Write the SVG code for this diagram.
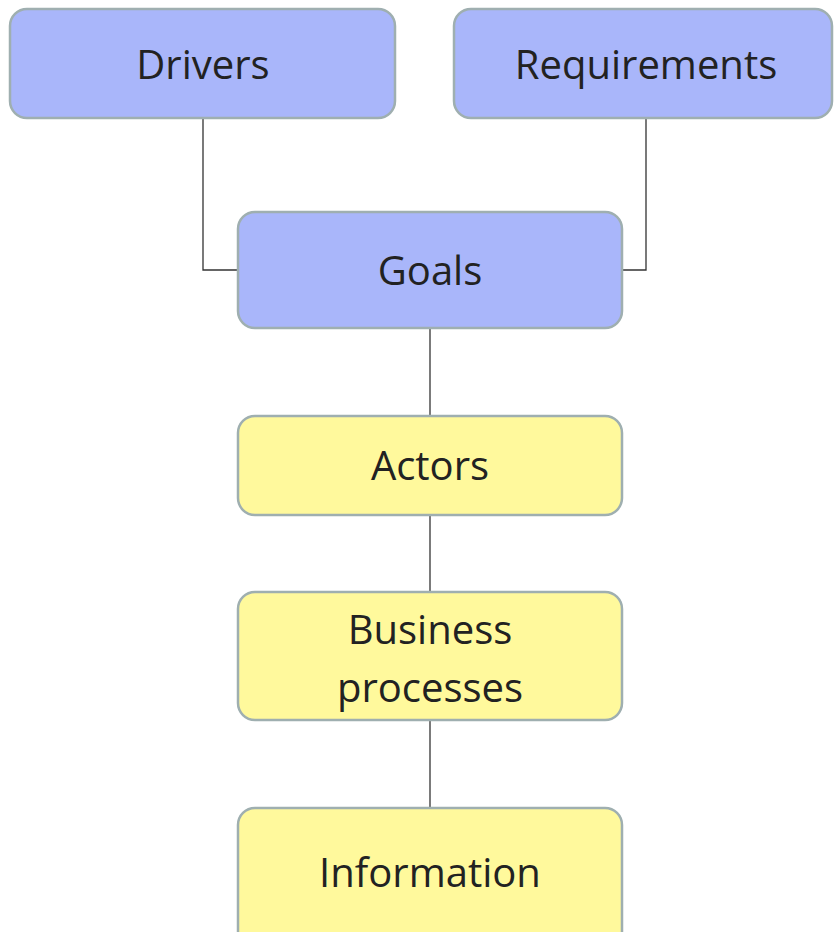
<svg xmlns="http://www.w3.org/2000/svg" width="834" height="932" viewBox="0 0 834 932">
<style>
.blue{fill:#A9B6FA;stroke:#9FAFB0;stroke-width:2.5}
.yel{fill:#FFF99C;stroke:#9FAFB0;stroke-width:2.5}
.lbl{font-family:"Open Sans","Noto Sans",sans-serif;font-size:40px;fill:#222;text-anchor:middle}
.con{fill:none;stroke:#333;stroke-width:1.3}
</style>
<rect width="834" height="932" fill="#fff"/>
<g id="connectors">
<polyline class="con" points="203,118 203,270 238,270"/>
<polyline class="con" points="646,118 646,270 622,270"/>
<line class="con" x1="430" y1="328" x2="430" y2="416"/>
<line class="con" x1="430" y1="515" x2="430" y2="592"/>
<line class="con" x1="430" y1="720" x2="430" y2="808"/>
</g>
<g id="drivers"><rect class="blue" x="10" y="9" width="385" height="109" rx="17"/><text class="lbl" x="203" y="79">Drivers</text></g>
<g id="requirements"><rect class="blue" x="454" y="9" width="378" height="109" rx="17"/><text class="lbl" x="646" y="79">Requirements</text></g>
<g id="goals"><rect class="blue" x="238" y="212" width="384" height="116" rx="17"/><text class="lbl" x="430" y="285">Goals</text></g>
<g id="actors"><rect class="yel" x="238" y="416" width="384" height="99" rx="17"/><text class="lbl" x="430" y="480">Actors</text></g>
<g id="business"><rect class="yel" x="238" y="592" width="384" height="128" rx="17"/><text class="lbl"><tspan x="430" y="644">Business</tspan><tspan x="430" y="702">processes</tspan></text></g>
<g id="information"><rect class="yel" x="238" y="808" width="384" height="140" rx="17"/><text class="lbl" x="430" y="887">Information</text></g>
</svg>
